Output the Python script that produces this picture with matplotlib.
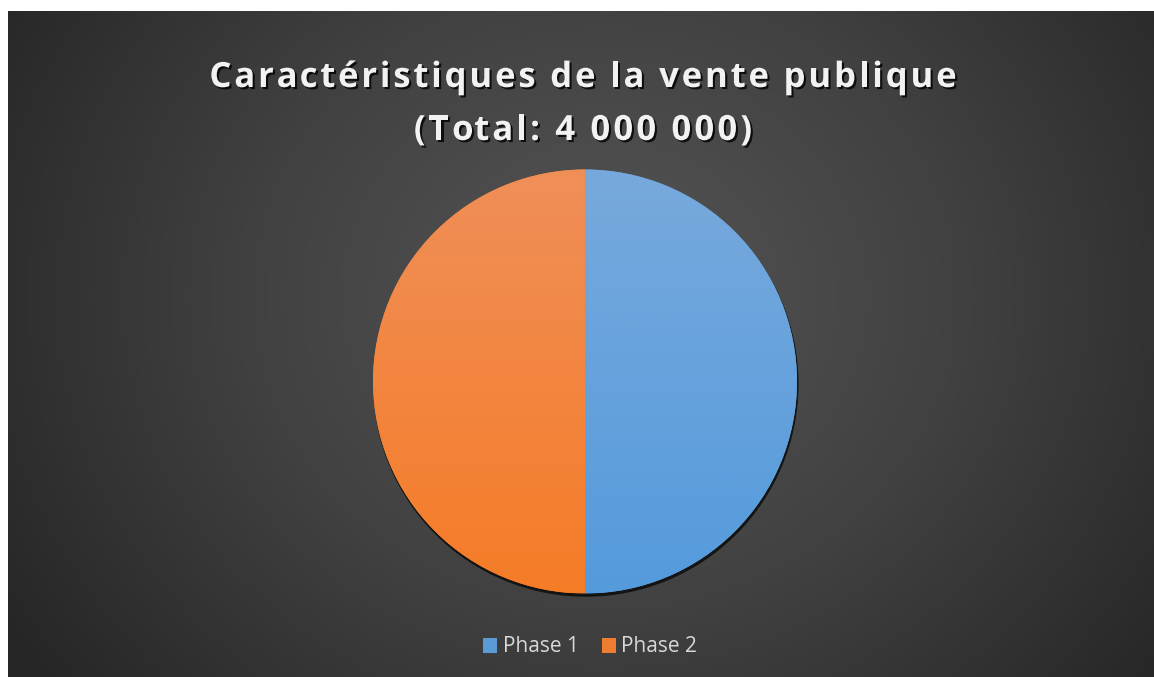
import matplotlib
matplotlib.use("Agg")
import matplotlib.pyplot as plt
import matplotlib.patheffects as pe
from matplotlib.patches import Circle
from matplotlib.colors import LinearSegmentedColormap
from matplotlib.font_manager import FontProperties
import numpy as np

# data
labels = ["Phase 1", "Phase 2"]
values = [2000000, 2000000]
colors = ["#5b9bd5", "#ed7d31"]
grad_top = ["#78a9dc", "#f08f59"]
grad_bot = ["#549bdc", "#f57c27"]
title_lines = ["Caractéristiques de la vente publique", "(Total: 4 000 000)"]

W, H = 1154, 677
fig = plt.figure(figsize=(W/100, H/100), dpi=100)
fig.patch.set_facecolor("white")

# dark background with radial gradient
bg = fig.add_axes([8/W, 0, (W-8)/W, (H-11)/H])
bg.set_axis_off()
yy, xx = np.mgrid[0:300, 0:500]
cx, cy = 0.52*500, 0.57*300
r = np.sqrt(((xx-cx)/(500*0.62))**2 + ((yy-cy)/(300*0.95))**2)
r = np.clip(r, 0, 1)
bgcm = LinearSegmentedColormap.from_list("bg", ["#555555", "#414141", "#262626"])
bg.imshow(r, cmap=bgcm, vmin=0, vmax=1, aspect="auto", extent=[0, 1, 0, 1], origin="lower")
bg.set_xlim(0, 1)
bg.set_ylim(0, 1)

# pie
R = 212
cxp, cyp = 585, 381.5
ax = fig.add_axes([(cxp-R-10)/W, (H-cyp-R-10)/H, (2*R+20)/W, (2*R+20)/H])
ax.set_axis_off()
sc = (R+10)/R
ax.add_patch(Circle((0.004, -0.012), 1.0, color="#111111", alpha=0.9, zorder=0))
wedges, _ = ax.pie(values, colors=colors, startangle=90, counterclock=False,
                   radius=1.0, wedgeprops=dict(linewidth=0))
for w, c0, c1 in zip(wedges, grad_top, grad_bot):
    cm = LinearSegmentedColormap.from_list("g", [c1, c0])
    g = np.linspace(0, 1, 256).reshape(-1, 1)
    im = ax.imshow(g, cmap=cm, extent=[-1, 1, -1, 1], origin="lower", aspect="auto", zorder=2)
    im.set_clip_path(w)
ax.set_xlim(-sc, sc)
ax.set_ylim(-sc, sc)

# title with letter spacing, char by char
fp = FontProperties(family=["Open Sans", "DejaVu Sans"], weight="bold", size=25)
rend = fig.canvas.get_renderer()
def tw(s):
    w1, _, _ = rend.get_text_width_height_descent(s + "|", fp, ismath=False)
    w0, _, _ = rend.get_text_width_height_descent("|", fp, ismath=False)
    return w1 - w0
shadow = [pe.withSimplePatchShadow(offset=(1.5, -1.5), shadow_rgbFace="black", alpha=0.8)]
def spaced(s, xc, ybase, sp):
    total = tw(s) + sp*(len(s)-1)
    x0 = xc - total/2
    for i, ch in enumerate(s):
        if ch == " ":
            continue
        x = x0 + tw(s[:i]) + sp*i
        fig.text(x/W, 1-ybase/H, ch, ha="left", va="baseline", color="#f2f2f2",
                 fontproperties=fp, path_effects=shadow)
spaced(title_lines[0], 583, 87, 2.8)
spaced(title_lines[1], 583, 140, 3.1)

# legend
leg = fig.legend(wedges, labels, loc="center", bbox_to_anchor=(590/W, 1-647/H), ncol=2,
                 frameon=False, handlelength=0.7, handleheight=0.7,
                 handletextpad=0.25, columnspacing=1.1,
                 prop={"family": ["Open Sans", "DejaVu Sans"], "size": 15})
for t in leg.get_texts():
    t.set_color("#d9d9d9")

fig.savefig("out.png", dpi=100, facecolor=fig.get_facecolor())
